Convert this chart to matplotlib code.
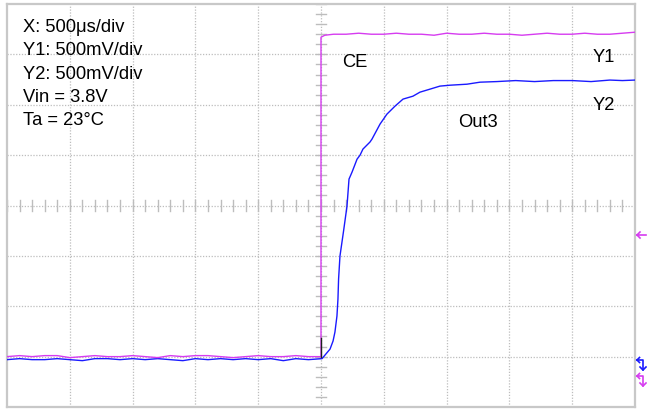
import numpy as np
import matplotlib
matplotlib.use("Agg")
import matplotlib.pyplot as plt
from matplotlib import font_manager

# ---- data (time in microseconds relative to CE edge, voltage in V) ----
ce_time = [-2500, -2400, -2300, -2200, -2100, -2000, -1900, -1800, -1700, -1600, -1500, -1400, -1300,
           -1200, -1100, -1000, -900, -800, -700, -600, -500, -400, -300, -200, -100, 0,
           0, 30, 100, 200, 300, 400, 500, 600, 700, 800, 900, 1000, 1100, 1200, 1300, 1400,
           1500, 1600, 1700, 1800, 1900, 2000, 2100, 2200, 2300, 2400, 2500]
ce_volt = [0.00, 0.01, 0.00, 0.01, 0.01, -0.01, 0.00, 0.01, 0.00, 0.00, 0.01, 0.00, -0.01,
           0.01, 0.00, 0.01, 0.01, 0.00, -0.01, 0.00, 0.01, 0.00, 0.00, 0.01, 0.00, 0.00,
           3.17, 3.19, 3.20, 3.20, 3.21, 3.20, 3.20, 3.21, 3.20, 3.20, 3.19, 3.21, 3.20, 3.20,
           3.21, 3.20, 3.20, 3.19, 3.20, 3.21, 3.20, 3.20, 3.21, 3.20, 3.20, 3.21, 3.22]

out_time = [-2500, -2400, -2300, -2200, -2100, -2000, -1900, -1800, -1700, -1600, -1500, -1400, -1300,
            -1200, -1100, -1000, -900, -800, -700, -600, -500, -400, -300, -200, -100, 8,
            72, 96, 111, 127, 135, 140, 151, 180, 207, 223, 247, 287, 311, 334, 390, 406,
            470, 525, 589, 653, 732, 788, 868, 947, 1027, 1162, 1266,
            1400, 1550, 1700, 1850, 2000, 2150, 2300, 2400, 2500]
out_volt = [-0.03, -0.02, -0.03, -0.03, -0.02, -0.03, -0.04, -0.02, -0.02, -0.03, -0.02, -0.03, -0.02,
            -0.03, -0.04, -0.02, -0.03, -0.02, -0.03, -0.02, -0.03, -0.02, -0.04, -0.02, -0.03, -0.02,
            0.075, 0.155, 0.244, 0.403, 0.571, 0.77, 0.998, 1.25, 1.494, 1.762, 1.831, 1.96, 2.00, 2.06, 2.13, 2.159,
            2.308, 2.407, 2.486, 2.556, 2.585, 2.625, 2.655, 2.685, 2.694, 2.704, 2.724,
            2.73, 2.74, 2.73, 2.74, 2.74, 2.73, 2.745, 2.74, 2.745]

info_lines = ["X: 500\u03bcs/div", "Y1: 500mV/div", "Y2: 500mV/div", "Vin = 3.8V", "Ta = 23\u00b0C"]

# ---- fonts ----
avail = {f.name for f in font_manager.fontManager.ttflist}
fam = "Liberation Sans Narrow" if "Liberation Sans Narrow" in avail else "Liberation Sans"
plt.rcParams["font.family"] = [fam, "DejaVu Sans"]

W, H = 647, 410
fig = plt.figure(figsize=(W / 100, H / 100), dpi=100)
x0, x1, y0, y1 = 7, 635, 5, 408
ax = fig.add_axes([x0 / W, 1 - y1 / H, (x1 - x0) / W, (y1 - y0) / H])

xdiv, ydiv = 500, 0.5
xmin, xmax = -5 * xdiv, 5 * xdiv
ymin, ymax = -1 * ydiv, 7 * ydiv
ax.set_xlim(xmin, xmax)
ax.set_ylim(ymin, ymax)

gcol = "#bdbdbd"
# grid
for gx in np.arange(xmin + xdiv, xmax, xdiv):
    ax.axvline(gx, color=gcol, lw=0.9, ls=(0, (1, 1.3)), zorder=1)
for gy in np.arange(ymin + ydiv, ymax, ydiv):
    ax.axhline(gy, color=gcol, lw=0.9, ls=(0, (1, 1.3)), zorder=1)
# center tick marks
yc = ymin + 4 * ydiv
for tx in np.arange(xmin, xmax + 1, xdiv / 5):
    ax.plot([tx, tx], [yc - 0.055, yc + 0.055], color=gcol, lw=1.0, zorder=1)
for ty in np.arange(ymin, ymax + 0.001, ydiv / 5):
    ax.plot([-40, 40], [ty, ty], color=gcol, lw=1.0, zorder=1)

for s in ax.spines.values():
    s.set_color("#c8c8c8")
    s.set_linewidth(1.6)
ax.set_xticks([])
ax.set_yticks([])

magenta = "#d63cf0"
blue = "#1a1aff"
ax.plot(out_time, out_volt, color=blue, lw=1.0, zorder=3)
ax.plot(ce_time, ce_volt, color=magenta, lw=1.0, zorder=4)
ax.plot([0, 0], [0.0, 0.18], color="#202020", lw=1.0, zorder=5)

fs = 13.2
for i, s in enumerate(info_lines):
    fig.text(23 / W, 1 - (32 + i * 23.3) / H, s, fontsize=fs, ha="left", va="baseline")
fig.text(342 / W, 1 - 67 / H, "CE", fontsize=fs, ha="left", va="baseline")
fig.text(458 / W, 1 - 127 / H, "Out3", fontsize=fs, ha="left", va="baseline")
fig.text(593 / W, 1 - 62 / H, "Y1", fontsize=fs, ha="left", va="baseline")
fig.text(593 / W, 1 - 110 / H, "Y2", fontsize=fs, ha="left", va="baseline")

# right-side channel markers
def fx(px):
    return px / W
def fy(py):
    return 1 - py / H

fig.add_artist(plt.Line2D([fx(637), fx(646)], [fy(236), fy(236)], color=magenta, lw=1.2))
fig.add_artist(plt.Line2D([fx(637), fx(640)], [fy(236), fy(233)], color=magenta, lw=1.2))
fig.add_artist(plt.Line2D([fx(637), fx(640)], [fy(236), fy(239)], color=magenta, lw=1.2))
for col, ytop in ((blue, 361), (magenta, 377)):
    fig.add_artist(plt.Line2D([fx(637), fx(643), fx(643)], [fy(ytop), fy(ytop), fy(ytop + 10)], color=col, lw=1.2))
    fig.add_artist(plt.Line2D([fx(637), fx(639.5)], [fy(ytop), fy(ytop - 2.5)], color=col, lw=1.2))
    fig.add_artist(plt.Line2D([fx(637), fx(639.5)], [fy(ytop), fy(ytop + 2.5)], color=col, lw=1.2))
    fig.add_artist(plt.Line2D([fx(640), fx(643), fx(646)], [fy(ytop + 7), fy(ytop + 10), fy(ytop + 7)], color=col, lw=1.2))

fig.savefig("out.png", dpi=100)
